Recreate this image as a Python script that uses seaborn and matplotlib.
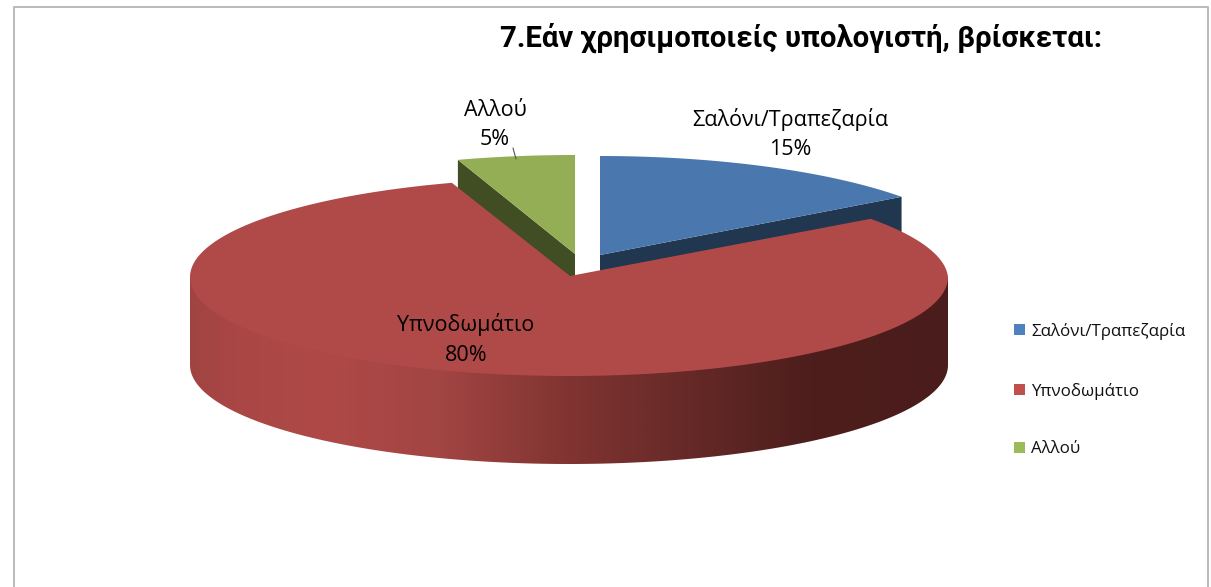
import numpy as np
import matplotlib
matplotlib.use('Agg')
import matplotlib.pyplot as plt
from matplotlib.colors import LinearSegmentedColormap
from matplotlib.patches import Polygon, Rectangle
import seaborn as sns

title = '7.Εάν χρησιμοποιείς υπολογιστή, βρίσκεται:'
categories = ['Σαλόνι/Τραπεζαρία', 'Υπνοδωμάτιο', 'Αλλού']
percent = [15, 80, 5]

top_colors = ['#4a78ae', '#b04a48', '#93ae54']
cut_colors = ['#20374f', '#7a2f2d', '#414d23']
legend_colors = ['#4f81bd', '#c0504d', '#9bbb59']

sns.set_theme(style='white')
plt.rcParams['font.family'] = ['Open Sans', 'DejaVu Sans']

fig = plt.figure(figsize=(12.11, 5.87), dpi=100)
ax = fig.add_axes([0, 0, 1, 1])

# pie geometry in pixels
rx, ry, depth = 379, 99, 88
apex = [(600, 255), (570, 276), (575, 254)]
ell_center = [(600, 255), (569, 277), (575, 254)]

stops = np.cumsum([0] + percent) / sum(percent) * 2 * np.pi


def rim(i, a, b, n=200):
    t = np.linspace(a, b, n)
    cx, cy = ell_center[i]
    # back right of the pie is a bit narrower, perspective
    squeeze = 1 - 0.028 * np.clip(np.cos(t), 0, 1) * (np.sin(t) > 0)
    return np.column_stack([cx + rx * np.sin(t) * squeeze, cy - ry * np.cos(t)])


# the two back slices first, the big one covers their lower part
for i in [0, 2]:
    edge = stops[i + 1] if i == 0 else stops[i]
    end = rim(i, edge, edge, 1)[0]
    ax.add_patch(Polygon([apex[i], end, end + [0, depth], np.array(apex[i]) + [0, depth]],
                         fc=cut_colors[i], ec='none'))
    ax.add_patch(Polygon(np.vstack([[apex[i]], rim(i, stops[i], stops[i + 1])]),
                         fc=top_colors[i], ec='none'))

# side of the big slice with its gradient, runs under the top face so no seam shows
front = rim(1, np.pi / 2, 3 * np.pi / 2)
clip = Polygon(np.vstack([front[[0]], front[[-1]], (front + [0, depth])[::-1]]), fc='none', ec='none')
ax.add_patch(clip)
shade = LinearSegmentedColormap.from_list('side', [
    (0.0, '#a04442'), (0.06, '#aa4745'), (0.18, '#ae4947'), (0.33, '#a24543'),
    (0.5, '#803431'), (0.65, '#672a28'), (0.82, '#4d1e1c'), (1.0, '#4a1c1b')])
img = ax.imshow(np.linspace(0, 1, 512)[None, :], cmap=shade, aspect='auto',
                extent=(190, 948, 470, 270))
img.set_clip_path(clip)

ax.add_patch(Polygon(np.vstack([[apex[1]], rim(1, stops[1], stops[2])]),
                     fc=top_colors[1], ec='none'))

ax.set_xlim(0, 1211)
ax.set_ylim(587, 0)
ax.axis('off')

# chart frame, open at the bottom
ax.plot([13.5, 13.5, 1208, 1208], [587, 7, 7, 587], color='#b4b4b4', lw=1.3, clip_on=False)

ax.text(801.5, 38, title, fontsize=21.2, fontweight='bold', ha='center', va='center', color='black',
        family=['Roboto', 'DejaVu Sans'])

label_xy = [(790, 134), (466, 339.5), (495, 125)]
for name, p, (x, y) in zip(categories, percent, label_xy):
    ax.text(x, y, f'{name}\n{p}%', fontsize=15.5, ha='center', va='center', color='black',
            linespacing=1.55)
ax.plot([513, 516], [148, 159], color='#555555', lw=0.8)

legend_y = [329.5, 389.5, 447.5]
for name, col, y in zip(categories, legend_colors, legend_y):
    ax.add_patch(Rectangle((1014, y - 5.5), 11, 11, fc=col, ec='none'))
    ax.text(1031, y + 1.5, name, fontsize=12.2, ha='left', va='center', color='#111111')

fig.savefig('out.png', dpi=100)
